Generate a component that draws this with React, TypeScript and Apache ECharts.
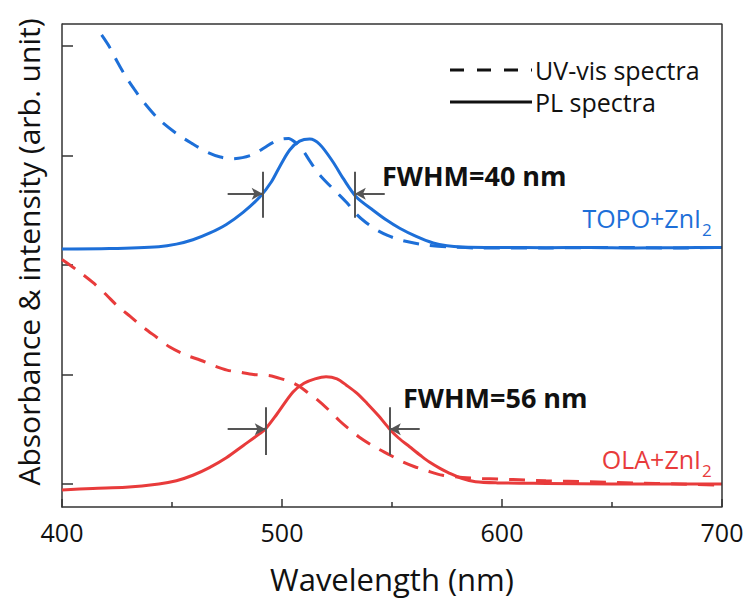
import React, { useEffect, useRef } from "react";
import * as echarts from "echarts";

// ---- Data ----
const topoPLWl = [400, 421.6, 444, 452, 459.5, 467, 474.7, 482.3, 489.9, 495.2, 499, 503.5, 508, 512.6, 517.2, 523.2, 527.8, 533.8, 541.4, 547.5, 553.5, 561, 568.7, 575, 582, 600, 620, 640, 660, 680, 700];
const topoPLVal = [2.146, 2.15, 2.167, 2.19, 2.23, 2.29, 2.37, 2.48, 2.62, 2.76, 2.9, 3.05, 3.13, 3.15, 3.1, 2.94, 2.79, 2.62, 2.5, 2.41, 2.335, 2.26, 2.2, 2.175, 2.165, 2.16, 2.158, 2.16, 2.155, 2.158, 2.16];

const topoUVWl = [418, 421.6, 425, 429, 433, 437, 444, 452, 459, 466, 472, 477, 482, 487, 492, 496, 500, 503, 506, 509, 512.6, 516, 520, 525, 529.4, 534, 538, 543, 548, 553.5, 560, 566, 575, 590, 620, 650, 680, 700];
const topoUVVal = [4.1, 3.99, 3.86, 3.72, 3.6, 3.49, 3.33, 3.2, 3.11, 3.03, 2.985, 2.97, 2.98, 3.01, 3.07, 3.12, 3.15, 3.155, 3.12, 3.06, 2.95, 2.85, 2.76, 2.66, 2.57, 2.46, 2.39, 2.32, 2.27, 2.23, 2.2, 2.18, 2.165, 2.155, 2.155, 2.16, 2.155, 2.16];

const olaPLWl = [400, 414, 429, 444, 452, 459.5, 467, 474.7, 482.3, 489.9, 492.4, 497.4, 505, 510, 515, 520, 525, 529.4, 534, 538.5, 544, 549, 553, 558, 563, 567, 572, 576, 582, 588, 598, 620, 650, 680, 700];
const olaPLVal = [-0.055, -0.04, -0.03, 0.0, 0.03, 0.08, 0.15, 0.24, 0.35, 0.46, 0.5, 0.63, 0.84, 0.92, 0.96, 0.98, 0.96, 0.9, 0.83, 0.74, 0.62, 0.5, 0.42, 0.34, 0.26, 0.2, 0.14, 0.1, 0.05, 0.02, 0.01, 0.005, 0.0, 0.0, 0.0];

const olaUVWl = [400, 407, 414, 420, 425, 431, 437, 443, 449, 456, 463, 469, 475, 481, 487, 494, 498, 503, 508, 512, 516, 521, 526, 530, 535, 542, 549, 554, 560, 566, 573, 582, 591, 605, 620, 640, 660, 680, 700];
const olaUVVal = [2.05, 1.95, 1.84, 1.73, 1.63, 1.53, 1.43, 1.34, 1.25, 1.18, 1.13, 1.08, 1.04, 1.02, 1.0, 0.99, 0.97, 0.94, 0.89, 0.83, 0.77, 0.68, 0.58, 0.51, 0.43, 0.34, 0.265, 0.21, 0.16, 0.12, 0.08, 0.06, 0.05, 0.04, 0.03, 0.02, 0.01, 0.0, -0.01];

// FWHM marker positions (wavelength, value)
const topoFWHM = { left: 491.2, right: 533.1, half: 2.65, lineLo: 2.43, lineHi: 2.85, arrowLeftFrom: 475.3, arrowRightFrom: 546.7 };
const olaFWHM = { left: 492.6, right: 549.0, half: 0.5, lineLo: 0.265, lineHi: 0.7, arrowLeftFrom: 475.3, arrowRightFrom: 562.6 };

const xTicks = [400, 500, 600, 700];
const yTicks = [0, 1, 2, 3, 4];
const X_MIN = 400, X_MAX = 700, Y_MIN = -0.21, Y_MAX = 4.2;

const BLUE = "#1d6fd8";
const RED = "#e83b3b";
const MARK = "#555555";
const AX = "#333333";
const FONT = "'Open Sans', 'DejaVu Sans', sans-serif";

const GRID = { left: 62, top: 24, width: 660, height: 483 };

const zip = (a: number[], b: number[]) => a.map((x, i) => [x, b[i]]);

function fwhmMarks(m: typeof topoFWHM) {
  const ls = { color: MARK, width: 2, type: "solid" as const };
  return {
    silent: true,
    symbol: ["none", "none"],
    label: { show: false },
    lineStyle: ls,
    emphasis: { disabled: true },
    data: [
      [{ coord: [m.left, m.lineLo] }, { coord: [m.left, m.lineHi] }],
      [{ coord: [m.right, m.lineLo] }, { coord: [m.right, m.lineHi] }],
      [
        { coord: [m.arrowLeftFrom, m.half], symbol: "none" },
        { coord: [m.left, m.half], symbol: "arrow", symbolSize: [9, 11] },
      ],
      [
        { coord: [m.arrowRightFrom, m.half], symbol: "none" },
        { coord: [m.right, m.half], symbol: "arrow", symbolSize: [9, 11] },
      ],
    ],
  };
}

export default function App() {
  const ref = useRef<HTMLDivElement>(null);
  useEffect(() => {
    if (!ref.current) return;
    const chart = echarts.init(ref.current, undefined, { renderer: "svg" });
    const lineBase = { type: "line" as const, showSymbol: false, smooth: 0.3, silent: true };
    chart.setOption({
      animation: false,
      backgroundColor: "#ffffff",
      grid: { ...GRID },
      xAxis: {
        type: "value",
        min: X_MIN,
        max: X_MAX,
        interval: 100,
        axisLine: { show: true, onZero: false, lineStyle: { color: AX, width: 1.5 } },
        axisTick: { show: true, inside: true, length: 8, lineStyle: { color: AX, width: 1.5 }, customValues: xTicks },
        minorTick: { show: true, splitNumber: 2, length: 5, lineStyle: { color: AX, width: 1.5 } },
        axisLabel: { fontSize: 25, color: "#111", fontFamily: FONT, margin: 12, customValues: xTicks },
        splitLine: { show: false },
      },
      yAxis: {
        type: "value",
        min: Y_MIN,
        max: Y_MAX,
        axisLine: { show: true, onZero: false, lineStyle: { color: AX, width: 1.5 } },
        axisTick: { show: true, inside: true, length: 11, lineStyle: { color: AX, width: 1.5 }, customValues: yTicks },
        axisLabel: { show: false },
        splitLine: { show: false },
      },
      series: [
        // top and right edges of the plot frame
        {
          type: "line",
          name: "frame",
          silent: true,
          clip: false,
          showSymbol: false,
          data: [[X_MIN, Y_MAX], [X_MAX, Y_MAX], [X_MAX, Y_MIN]],
          lineStyle: { color: AX, width: 1.5 },
          z: 10,
        },
        { ...lineBase, name: "TOPO UV", data: zip(topoUVWl, topoUVVal), lineStyle: { color: BLUE, width: 3, type: [16, 11] } },
        { ...lineBase, name: "TOPO PL", data: zip(topoPLWl, topoPLVal), lineStyle: { color: BLUE, width: 3 }, markLine: fwhmMarks(topoFWHM) },
        { ...lineBase, name: "OLA UV", data: zip(olaUVWl, olaUVVal), lineStyle: { color: RED, width: 3, type: [16, 11] } },
        { ...lineBase, name: "OLA PL", data: zip(olaPLWl, olaPLVal), lineStyle: { color: RED, width: 3 }, markLine: fwhmMarks(olaFWHM) },
      ],
      graphic: [
        { type: "text", x: 28, y: 252, rotation: Math.PI / 2, style: { text: "Absorbance & intensity (arb. unit)", fontSize: 30, fontFamily: FONT, fill: "#111", verticalAlign: "middle", align: "center" } },
        { type: "text", x: 392, y: 579, style: { text: "Wavelength (nm)", fontSize: 31, lineHeight: 30, fontFamily: FONT, fill: "#111", verticalAlign: "middle", align: "center" } },
        { type: "line", shape: { x1: 450, y1: 70, x2: 532, y2: 70 }, style: { stroke: "#111", lineWidth: 3, lineDash: [14, 13] } },
        { type: "text", x: 535, y: 70, style: { text: "UV-vis spectra", fontSize: 25, lineHeight: 26, fontFamily: FONT, fill: "#111", verticalAlign: "middle", align: "left" } },
        { type: "line", shape: { x1: 450, y1: 102, x2: 532, y2: 102 }, style: { stroke: "#111", lineWidth: 3 } },
        { type: "text", x: 535, y: 102, style: { text: "PL spectra", fontSize: 25, lineHeight: 26, fontFamily: FONT, fill: "#111", verticalAlign: "middle", align: "left" } },
        { type: "text", x: 382, y: 175, style: { text: "FWHM=40 nm", fontSize: 27, fontWeight: "bold", fontFamily: FONT, fill: "#111", verticalAlign: "middle", align: "left" } },
        { type: "text", x: 403, y: 397, style: { text: "FWHM=56 nm", fontSize: 27, fontWeight: "bold", fontFamily: FONT, fill: "#111", verticalAlign: "middle", align: "left" } },
        { type: "text", x: 701, y: 218, style: { text: "TOPO+ZnI", fontSize: 25, fontFamily: FONT, fill: BLUE, verticalAlign: "middle", align: "right" } },
        { type: "text", x: 702, y: 229, style: { text: "2", fontSize: 17, fontFamily: FONT, fill: BLUE, verticalAlign: "middle", align: "left" } },
        { type: "text", x: 701, y: 459, style: { text: "OLA+ZnI", fontSize: 25, fontFamily: FONT, fill: RED, verticalAlign: "middle", align: "right" } },
        { type: "text", x: 702, y: 470, style: { text: "2", fontSize: 17, fontFamily: FONT, fill: RED, verticalAlign: "middle", align: "left" } },
      ],
    });
    return () => chart.dispose();
  }, []);
  return <div ref={ref} style={{ position: "absolute", left: 0, top: 0, width: 748, height: 601 }} />;
}
